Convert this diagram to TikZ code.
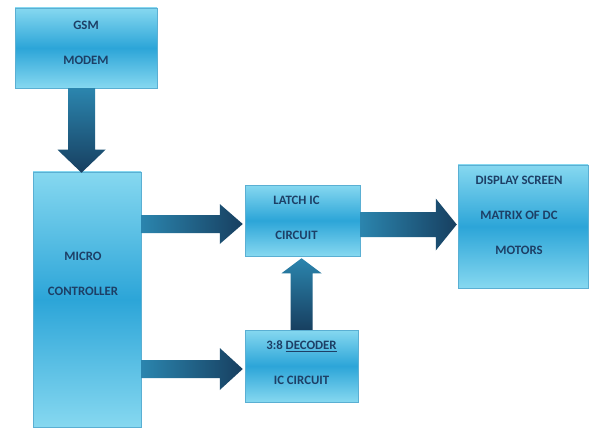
\documentclass[tikz,border=0pt]{standalone}
\usepackage{fontspec}
\setmainfont{Carlito}
\usepackage{tikz}
\usetikzlibrary{calc}
\definecolor{BoxLight}{HTML}{86D8F0}
\definecolor{BoxMid}{HTML}{2CA5D8}
\definecolor{BoxEdge}{HTML}{5AAFD3}
\definecolor{ShaftTeal}{HTML}{2B85AE}
\definecolor{HeadNavy}{HTML}{173F60}
\definecolor{InkBlue}{HTML}{1D3F66}

\tikzset{
  block/.style={draw=BoxEdge, line width=0.5pt, rectangle, inner sep=0pt,
    top color=BoxLight, bottom color=BoxLight, middle color=BoxMid},
  lbl/.style={text=InkBlue, align=center, inner sep=0pt,
    font=\fontsize{12.8}{35}\selectfont\bfseries},
  hshade/.style={left color=ShaftTeal, right color=HeadNavy},
  vshade/.style={top color=ShaftTeal, bottom color=HeadNavy}
}

% block arrows: from, to, shaft half width, head half width, head length
\newcommand{\hflow}[5]{%
  \path[hshade] let \p1=(#1), \p2=(#2) in
    (\x1,\y1-#3) -- (\x2-#5,\y1-#3) -- (\x2-#5,\y1-#4) -- (\x2,\y1)
    -- (\x2-#5,\y1+#4) -- (\x2-#5,\y1+#3) -- (\x1,\y1+#3) -- cycle;
}
\newcommand{\vflow}[5]{%
  \path[vshade] let \p1=(#1), \p2=(#2) in
    (\x1-#3,\y1) -- (\x1-#3,\y2+#5) -- (\x1-#4,\y2+#5) -- (\x1,\y2)
    -- (\x1+#4,\y2+#5) -- (\x1+#3,\y2+#5) -- (\x1+#3,\y1) -- cycle;
}

\begin{document}
\begin{tikzpicture}[x=1pt, y=-1pt]
    \useasboundingbox[fill=white] (0,0) rectangle (590,428);

    % Blocks
    \node[block, minimum width=142pt, minimum height=80pt] (gsm) at (86,48) {};
    \node[block, minimum width=108pt, minimum height=255pt] (mc) at (87,299.5) {};
    \node[block, minimum width=115pt, minimum height=71pt] (latch) at (302.5,220.5) {};
    \node[block, minimum width=113pt, minimum height=72pt] (decoder) at (301.5,366) {};
    \node[block, minimum width=130pt, minimum height=123pt] (display) at (523,226.5) {};

    % Texts
    \node[lbl] (gsmtext) at ($(gsm)+(0,-5.5)$) {GSM\\MODEM};
    \node[lbl] (mctext) at ($(mc)+(-4,-26)$) {MICRO\\CONTROLLER};
    \node[lbl] (latchtext) at ($(latch)+(-6,-3)$) {LATCH IC\\CIRCUIT};
    \node[lbl] (decodertext) at ($(decoder)+(0,-3.5)$) {3:8 \underline{DECODER}\\IC CIRCUIT};
    \node[lbl] (displaytext) at ($(display)+(-4,-11.5)$) {DISPLAY SCREEN\\MATRIX OF DC\\MOTORS};

    % Arrows
    \vflow{$(gsm.south)+(-4.5,0)$}{$(gsm.south |- mc.north)+(-4.5,1)$}{13.5pt}{24pt}{23pt}
    \hflow{$(mc.east |- latch.west)+(0,3.5)$}{$(latch.west)+(-2,0)$}{9pt}{20pt}{23pt}
    \hflow{$(mc.east |- decoder.west)+(0,3)$}{$(decoder.west)+(-2,0)$}{9pt}{21pt}{23pt}
    \hflow{$(latch.east)+(0,4)$}{$(display.west)+(-1,0)$}{12.5pt}{26pt}{21pt}
    \vflow{decoder.north}{$(latch.south)+(0,2)$}{11pt}{20pt}{-15pt}
\end{tikzpicture}
\end{document}
